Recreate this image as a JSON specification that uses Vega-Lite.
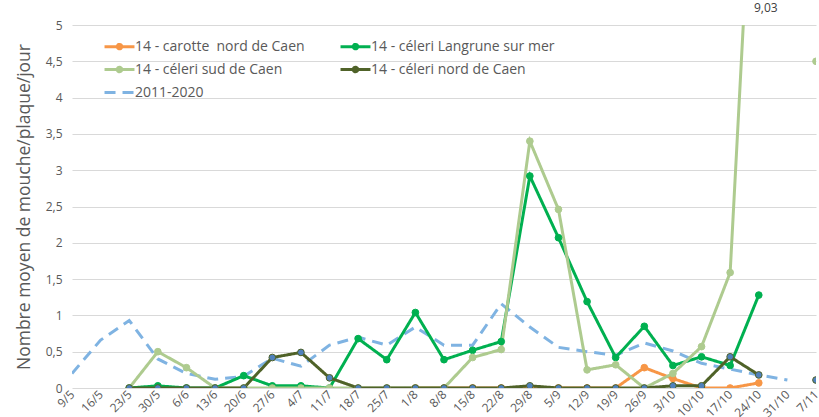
{
  "$schema": "https://vega.github.io/schema/vega-lite/v6.json",
  "width": 744,
  "height": 363,
  "autosize": {"type": "none"},
  "padding": {"left": 72, "top": 25, "right": 3, "bottom": 29},
  "background": "white",
  "config": {
    "locale": {"number": {"decimal": ",", "thousands": " ", "grouping": [3], "currency": ["", " €"]}},
    "font": "Open Sans",
    "view": {"stroke": null}
  },
  "data": {"values": [
    {"d": "9/5", "s": "2011-2020", "v": 0.2},
    {"d": "16/5", "s": "2011-2020", "v": 0.66},
    {"d": "23/5", "s": "2011-2020", "v": 0.93},
    {"d": "30/5", "s": "2011-2020", "v": 0.4},
    {"d": "6/6", "s": "2011-2020", "v": 0.2},
    {"d": "13/6", "s": "2011-2020", "v": 0.12},
    {"d": "20/6", "s": "2011-2020", "v": 0.16},
    {"d": "27/6", "s": "2011-2020", "v": 0.41},
    {"d": "4/7", "s": "2011-2020", "v": 0.3},
    {"d": "11/7", "s": "2011-2020", "v": 0.59},
    {"d": "18/7", "s": "2011-2020", "v": 0.7},
    {"d": "25/7", "s": "2011-2020", "v": 0.59},
    {"d": "1/8", "s": "2011-2020", "v": 0.84},
    {"d": "8/8", "s": "2011-2020", "v": 0.59},
    {"d": "15/8", "s": "2011-2020", "v": 0.59},
    {"d": "22/8", "s": "2011-2020", "v": 1.16},
    {"d": "29/8", "s": "2011-2020", "v": 0.84},
    {"d": "5/9", "s": "2011-2020", "v": 0.56},
    {"d": "12/9", "s": "2011-2020", "v": 0.5},
    {"d": "19/9", "s": "2011-2020", "v": 0.45},
    {"d": "26/9", "s": "2011-2020", "v": 0.62},
    {"d": "3/10", "s": "2011-2020", "v": 0.51},
    {"d": "10/10", "s": "2011-2020", "v": 0.34},
    {"d": "17/10", "s": "2011-2020", "v": 0.26},
    {"d": "24/10", "s": "2011-2020", "v": 0.18},
    {"d": "31/10", "s": "2011-2020", "v": 0.11},

    {"d": "1/8", "s": "14 - carotte \u00a0nord de Caen", "v": 0},
    {"d": "8/8", "s": "14 - carotte \u00a0nord de Caen", "v": 0},
    {"d": "15/8", "s": "14 - carotte \u00a0nord de Caen", "v": 0},
    {"d": "22/8", "s": "14 - carotte \u00a0nord de Caen", "v": 0},
    {"d": "29/8", "s": "14 - carotte \u00a0nord de Caen", "v": 0},
    {"d": "5/9", "s": "14 - carotte \u00a0nord de Caen", "v": 0},
    {"d": "12/9", "s": "14 - carotte \u00a0nord de Caen", "v": 0},
    {"d": "19/9", "s": "14 - carotte \u00a0nord de Caen", "v": 0},
    {"d": "26/9", "s": "14 - carotte \u00a0nord de Caen", "v": 0.28},
    {"d": "3/10", "s": "14 - carotte \u00a0nord de Caen", "v": 0.13},
    {"d": "10/10", "s": "14 - carotte \u00a0nord de Caen", "v": 0},
    {"d": "17/10", "s": "14 - carotte \u00a0nord de Caen", "v": 0},
    {"d": "24/10", "s": "14 - carotte \u00a0nord de Caen", "v": 0.07},

    {"d": "23/5", "s": "14 - céleri Langrune sur mer", "v": 0},
    {"d": "30/5", "s": "14 - céleri Langrune sur mer", "v": 0.03},
    {"d": "6/6", "s": "14 - céleri Langrune sur mer", "v": 0},
    {"d": "13/6", "s": "14 - céleri Langrune sur mer", "v": 0},
    {"d": "20/6", "s": "14 - céleri Langrune sur mer", "v": 0.17},
    {"d": "27/6", "s": "14 - céleri Langrune sur mer", "v": 0.03},
    {"d": "4/7", "s": "14 - céleri Langrune sur mer", "v": 0.03},
    {"d": "11/7", "s": "14 - céleri Langrune sur mer", "v": 0},
    {"d": "18/7", "s": "14 - céleri Langrune sur mer", "v": 0.68},
    {"d": "25/7", "s": "14 - céleri Langrune sur mer", "v": 0.39},
    {"d": "1/8", "s": "14 - céleri Langrune sur mer", "v": 1.04},
    {"d": "8/8", "s": "14 - céleri Langrune sur mer", "v": 0.39},
    {"d": "15/8", "s": "14 - céleri Langrune sur mer", "v": 0.52},
    {"d": "22/8", "s": "14 - céleri Langrune sur mer", "v": 0.64},
    {"d": "29/8", "s": "14 - céleri Langrune sur mer", "v": 2.92},
    {"d": "5/9", "s": "14 - céleri Langrune sur mer", "v": 2.07},
    {"d": "12/9", "s": "14 - céleri Langrune sur mer", "v": 1.19},
    {"d": "19/9", "s": "14 - céleri Langrune sur mer", "v": 0.42},
    {"d": "26/9", "s": "14 - céleri Langrune sur mer", "v": 0.85},
    {"d": "3/10", "s": "14 - céleri Langrune sur mer", "v": 0.31},
    {"d": "10/10", "s": "14 - céleri Langrune sur mer", "v": 0.43},
    {"d": "17/10", "s": "14 - céleri Langrune sur mer", "v": 0.31},
    {"d": "24/10", "s": "14 - céleri Langrune sur mer", "v": 1.28},

    {"d": "23/5", "s": "14 - céleri sud de Caen", "v": 0},
    {"d": "30/5", "s": "14 - céleri sud de Caen", "v": 0.5},
    {"d": "6/6", "s": "14 - céleri sud de Caen", "v": 0.28},
    {"d": "13/6", "s": "14 - céleri sud de Caen", "v": 0},
    {"d": "20/6", "s": "14 - céleri sud de Caen", "v": 0},
    {"d": "27/6", "s": "14 - céleri sud de Caen", "v": 0},
    {"d": "4/7", "s": "14 - céleri sud de Caen", "v": 0},
    {"d": "11/7", "s": "14 - céleri sud de Caen", "v": 0},
    {"d": "18/7", "s": "14 - céleri sud de Caen", "v": 0},
    {"d": "25/7", "s": "14 - céleri sud de Caen", "v": 0},
    {"d": "1/8", "s": "14 - céleri sud de Caen", "v": 0},
    {"d": "8/8", "s": "14 - céleri sud de Caen", "v": 0},
    {"d": "15/8", "s": "14 - céleri sud de Caen", "v": 0.42},
    {"d": "22/8", "s": "14 - céleri sud de Caen", "v": 0.53},
    {"d": "29/8", "s": "14 - céleri sud de Caen", "v": 3.4},
    {"d": "5/9", "s": "14 - céleri sud de Caen", "v": 2.46},
    {"d": "12/9", "s": "14 - céleri sud de Caen", "v": 0.25},
    {"d": "19/9", "s": "14 - céleri sud de Caen", "v": 0.32},
    {"d": "26/9", "s": "14 - céleri sud de Caen", "v": 0},
    {"d": "3/10", "s": "14 - céleri sud de Caen", "v": 0.2},
    {"d": "10/10", "s": "14 - céleri sud de Caen", "v": 0.57},
    {"d": "17/10", "s": "14 - céleri sud de Caen", "v": 1.59},
    {"d": "24/10", "s": "14 - céleri sud de Caen", "v": 9.03},
    {"d": "31/10", "s": "14 - céleri sud de Caen", "v": null},
    {"d": "7/11", "s": "14 - céleri sud de Caen", "v": 4.5},

    {"d": "23/5", "s": "14 - céleri nord de Caen", "v": 0},
    {"d": "30/5", "s": "14 - céleri nord de Caen", "v": 0},
    {"d": "6/6", "s": "14 - céleri nord de Caen", "v": 0},
    {"d": "13/6", "s": "14 - céleri nord de Caen", "v": 0},
    {"d": "20/6", "s": "14 - céleri nord de Caen", "v": 0},
    {"d": "27/6", "s": "14 - céleri nord de Caen", "v": 0.42},
    {"d": "4/7", "s": "14 - céleri nord de Caen", "v": 0.49},
    {"d": "11/7", "s": "14 - céleri nord de Caen", "v": 0.14},
    {"d": "18/7", "s": "14 - céleri nord de Caen", "v": 0},
    {"d": "25/7", "s": "14 - céleri nord de Caen", "v": 0},
    {"d": "1/8", "s": "14 - céleri nord de Caen", "v": 0},
    {"d": "8/8", "s": "14 - céleri nord de Caen", "v": 0},
    {"d": "15/8", "s": "14 - céleri nord de Caen", "v": 0},
    {"d": "22/8", "s": "14 - céleri nord de Caen", "v": 0},
    {"d": "29/8", "s": "14 - céleri nord de Caen", "v": 0.03},
    {"d": "5/9", "s": "14 - céleri nord de Caen", "v": 0},
    {"d": "12/9", "s": "14 - céleri nord de Caen", "v": 0},
    {"d": "19/9", "s": "14 - céleri nord de Caen", "v": 0},
    {"d": "26/9", "s": "14 - céleri nord de Caen", "v": 0},
    {"d": "3/10", "s": "14 - céleri nord de Caen", "v": 0.03},
    {"d": "10/10", "s": "14 - céleri nord de Caen", "v": 0.03},
    {"d": "17/10", "s": "14 - céleri nord de Caen", "v": 0.43},
    {"d": "24/10", "s": "14 - céleri nord de Caen", "v": 0.18},
    {"d": "31/10", "s": "14 - céleri nord de Caen", "v": null},
    {"d": "7/11", "s": "14 - céleri nord de Caen", "v": 0.11}
  ]},
  "encoding": {
    "x": {
      "field": "d", "type": "ordinal",
      "scale": {"type": "point", "padding": 0, "domain": ["9/5","16/5","23/5","30/5","6/6","13/6","20/6","27/6","4/7","11/7","18/7","25/7","1/8","8/8","15/8","22/8","29/8","5/9","12/9","19/9","26/9","3/10","10/10","17/10","24/10","31/10","7/11"]},
      "axis": {"title": null, "labelAngle": -45, "labelAlign": "right", "labelBaseline": "middle", "labelPadding": 4, "labelFontSize": 12, "labelColor": "#595959", "ticks": false, "domain": false, "grid": false, "labelOverlap": false}
    },
    "y": {
      "field": "v", "type": "quantitative",
      "scale": {"domain": [0, 5], "nice": false, "zero": true},
      "axis": {"title": "Nombre moyen de mouche/plaque/jour", "titleFontSize": 17.5, "titleFontWeight": "normal", "titleColor": "#595959", "titlePadding": 12, "values": [0,0.5,1,1.5,2,2.5,3,3.5,4,4.5,5], "format": "~g", "labelFontSize": 12, "labelColor": "#595959", "labelPadding": 10, "ticks": false, "domain": false, "grid": true, "gridColor": "#d9d9d9", "gridWidth": 1}
    }
  },
  "layer": [
    {
      "mark": {"type": "line", "clip": true, "strokeWidth": 3, "invalid": "break-paths-filter-domains"},
      "encoding": {
        "order": {"value": null},
        "color": {
          "field": "s", "type": "nominal",
          "scale": {"domain": ["14 - carotte \u00a0nord de Caen", "14 - céleri sud de Caen", "2011-2020", "14 - céleri Langrune sur mer", "14 - céleri nord de Caen"], "range": ["#f79646", "#aecb8f", "#7fb3e2", "#00b050", "#4f6228"]},
          "legend": {
            "title": null, "orient": "none", "legendX": 39, "legendY": 13, "columns": 2, "columnPadding": 29, "rowPadding": 6,
            "labelFontSize": 14, "labelColor": "#595959", "labelOffset": 7, "symbolSize": 196, "symbolStrokeWidth": 3, "labelLimit": 400,
            "encode": {"symbols": {"update": {
              "shape": {"signal": "datum.value === '2011-2020' ? 'M-2.14,0H2.14' : 'M-2.14,0H2.14M-0.32,0A0.32,0.32 0 1,0 0.32,0A0.32,0.32 0 1,0 -0.32,0'"},
              "fill": {"signal": "datum.value === '14 - céleri nord de Caen' ? '#4f81bd' : datum.value === '2011-2020' ? 'transparent' : scale('color', datum.value)"}
            }}}
          }
        },
        "strokeDash": {
          "field": "s", "type": "nominal",
          "scale": {"domain": ["14 - carotte \u00a0nord de Caen", "14 - céleri sud de Caen", "2011-2020", "14 - céleri Langrune sur mer", "14 - céleri nord de Caen"], "range": [[1,0],[1,0],[11,7],[1,0],[1,0]]},
          "legend": null
        }
      }
    },
    {
      "transform": [{"filter": "datum.s !== '2011-2020' && datum.v !== null"}],
      "mark": {"type": "point", "filled": true, "clip": true, "size": 45, "opacity": 1, "strokeWidth": 1},
      "encoding": {
        "fill": {
          "field": "s", "type": "nominal",
          "scale": {"domain": ["14 - carotte \u00a0nord de Caen", "14 - céleri Langrune sur mer", "14 - céleri sud de Caen", "14 - céleri nord de Caen"], "range": ["#f79646", "#00b050", "#aecb8f", "#4f81bd"]},
          "legend": null
        },
        "stroke": {
          "field": "s", "type": "nominal",
          "scale": {"domain": ["14 - carotte \u00a0nord de Caen", "14 - céleri Langrune sur mer", "14 - céleri sud de Caen", "14 - céleri nord de Caen"], "range": ["#f79646", "#00b050", "#aecb8f", "#4f6228"]},
          "legend": null
        }
      }
    },
    {
      "transform": [{"filter": "datum.v > 5"}],
      "mark": {"type": "text", "clip": false, "dx": 7, "dy": -17, "fontSize": 12, "color": "#404040"},
      "encoding": {
        "y": {"datum": 5},
        "text": {"field": "v", "type": "quantitative", "format": ".2f"}
      }
    }
  ]
}
